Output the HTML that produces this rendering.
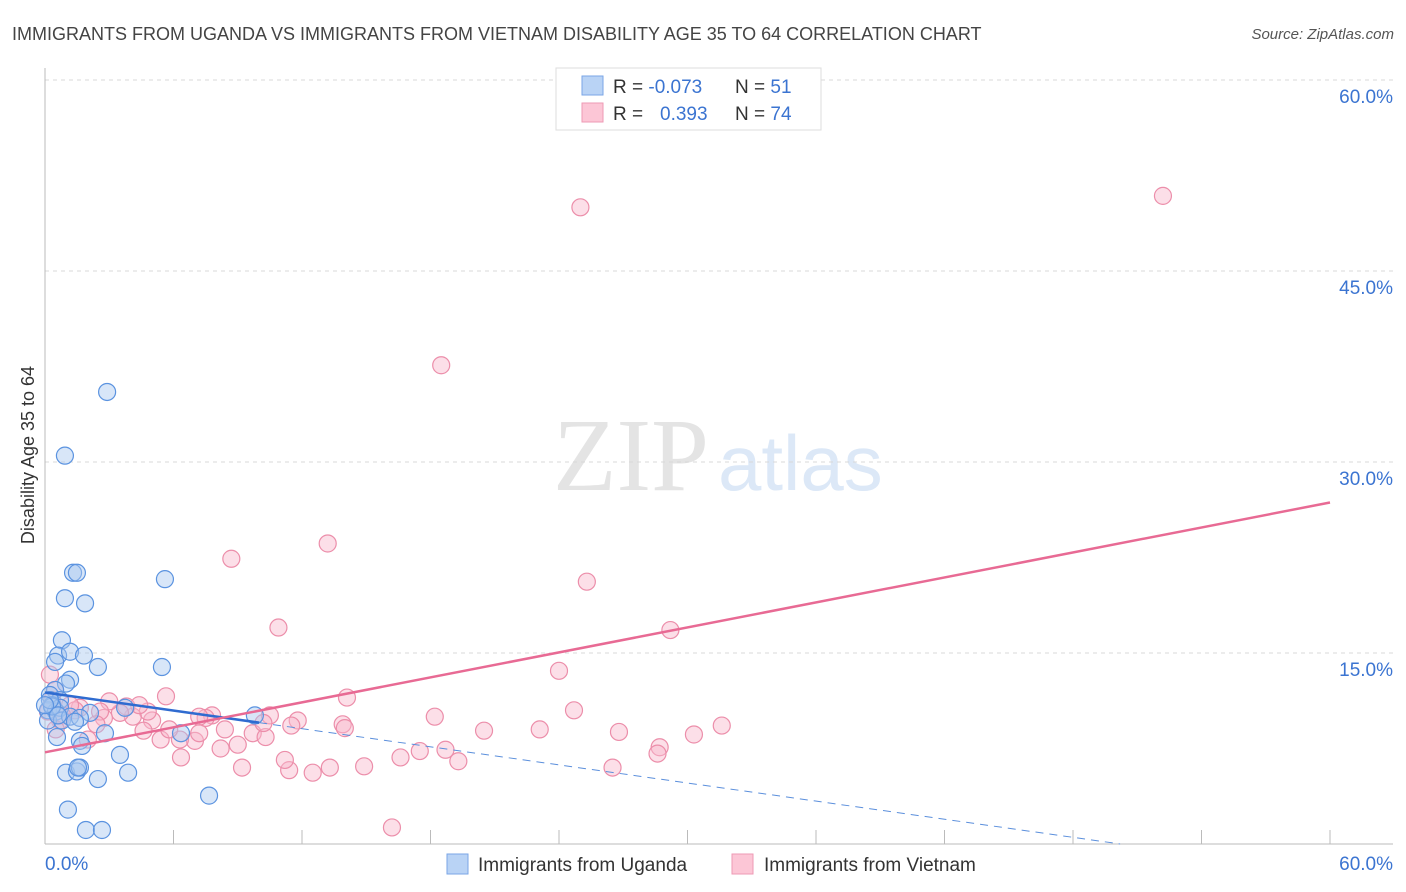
<!DOCTYPE html>
<html><head><meta charset="utf-8">
<style>
body{margin:0;background:#fff;font-family:"Liberation Sans",sans-serif;}
svg{display:block}
</style></head>
<body>
<svg id="chart" width="1406" height="892">
<text x="12" y="40" font-size="18" fill="#444">IMMIGRANTS FROM UGANDA VS IMMIGRANTS FROM VIETNAM DISABILITY AGE 35 TO 64 CORRELATION CHART</text>
<text x="1394" y="39" font-size="15" fill="#555" font-style="italic" text-anchor="end">Source: ZipAtlas.com</text>
<g>
<text x="553" y="490" font-family="Liberation Serif,serif" font-size="104" fill="#e4e4e4">ZIP</text>
<text x="718" y="490" font-size="78" fill="#dce8f7">atlas</text>
</g>
<g id="grid"></g>
<g id="axes"></g>
<g id="pts"></g>
<g id="trend"></g>
<text transform="translate(34,455) rotate(-90)" font-size="18" fill="#333" text-anchor="middle">Disability Age 35 to 64</text>
<g>
<rect x="556" y="68" width="265" height="62" fill="#fff" stroke="#ddd"/>
<rect x="582" y="76" width="21" height="19" fill="#b9d3f5" stroke="#7aa6e6"/>
<rect x="582" y="103" width="21" height="19" fill="#fcc6d6" stroke="#ee9ab4"/>
<text x="613" y="93" font-size="19" fill="#333">R = <tspan fill="#3b74d1">-0.073</tspan></text>
<text x="735" y="93" font-size="19" fill="#333">N = <tspan fill="#3b74d1">51</tspan></text>
<text x="613" y="120" font-size="19" fill="#333">R = <tspan fill="#3b74d1" x="660">0.393</tspan></text>
<text x="735" y="120" font-size="19" fill="#333">N = <tspan fill="#3b74d1">74</tspan></text>
</g>
<g>
<rect x="447" y="854" width="21" height="20" fill="#b9d3f5" stroke="#7aa6e6"/>
<text x="478" y="871" font-size="19" fill="#333">Immigrants from Uganda</text>
<rect x="732" y="854" width="21" height="20" fill="#fcc6d6" stroke="#ee9ab4"/>
<text x="764" y="871" font-size="19" fill="#333">Immigrants from Vietnam</text>
</g>
</svg>
<script>
const ugandaX=[2.9,0.93,1.31,1.49,0.93,1.87,5.6,0.79,0.61,1.17,1.82,0.47,2.47,5.46,1.17,0.98,0.47,0.23,0.70,0.33,0.14,0.51,0.70,2.10,3.74,9.8,0.14,0.79,1.17,1.63,0.56,1.63,2.8,1.73,3.5,6.35,0.98,1.49,1.63,1.54,2.47,3.88,7.66,1.07,1.91,2.66,0.33,0.23,0.61,1.40,0.0];
const ugandaY=[35.5,30.5,21.3,21.3,19.3,18.9,20.8,16.0,14.8,15.1,14.8,14.3,13.9,13.9,12.9,12.6,12.1,11.7,11.3,10.9,10.5,10.4,10.7,10.3,10.7,10.1,9.7,9.7,10.0,9.9,8.4,8.1,8.7,7.7,7.0,8.7,5.6,5.7,6.0,6.0,5.1,5.6,3.8,2.7,1.1,1.1,10.8,11.3,10.1,9.6,10.9];
const vietnamX=[25.0,52.2,18.5,13.2,8.7,25.3,10.9,29.2,24.0,5.65,14.1,24.7,18.2,20.5,23.1,26.8,30.3,31.6,28.7,28.6,26.5,16.2,19.3,18.7,17.5,16.6,14.9,13.3,12.5,11.4,11.2,11.8,11.5,13.9,14.0,10.5,9.7,10.3,9.0,9.2,8.2,7.8,7.5,7.2,7.0,6.35,6.3,5.4,5.0,4.8,4.6,4.1,3.8,3.5,3.0,2.75,2.57,2.4,2.0,1.63,1.4,1.17,0.8,0.47,0.23,0.33,0.7,0.14,0.5,5.8,7.2,8.4,10.2,4.4];
const vietnamY=[50.0,50.9,37.6,23.6,22.4,20.6,17.0,16.8,13.6,11.6,11.5,10.5,10.0,8.9,9.0,8.8,8.6,9.3,7.6,7.1,6.0,1.3,6.5,7.4,7.3,6.8,6.1,6.0,5.6,5.8,6.6,9.7,9.3,9.4,9.1,10.1,8.7,8.4,7.8,6.0,7.5,10.1,9.9,10.0,8.1,6.8,8.2,8.2,9.7,10.4,8.9,10.0,10.8,10.3,11.2,9.9,10.4,9.4,8.2,10.7,10.5,10.9,10.1,12.1,13.3,11.3,9.7,10.4,9.0,9.0,8.7,9.0,9.5,10.9];
const yTicks=[15,30,45,60];
const yTickLabels=["15.0%","30.0%","45.0%","60.0%"];
const xTicks=[0,6,12,18,24,30,36,42,48,54,60];
const trendUganda=[11.9,-0.237]; // intercept, slope
const trendVietnam=[7.2,0.327];
const ugandaSolidEnd=10, ugandaDashEnd=50.2, vietnamEnd=60;

const NS="http://www.w3.org/2000/svg";
const X0=45,X1=1330,Y0=844,Y1=80;
const sx=v=>X0+(X1-X0)*v/60;
const sy=v=>Y0-(Y0-Y1)*v/60;
function mk(tag,attrs,parent){const e=document.createElementNS(NS,tag);for(const k in attrs)e.setAttribute(k,attrs[k]);parent.appendChild(e);return e;}
const grid=document.getElementById('grid'),axes=document.getElementById('axes'),pts=document.getElementById('pts'),trend=document.getElementById('trend');
yTicks.forEach((t,i)=>{
  const l=mk('line',{x1:X0,x2:1393,y1:sy(t),y2:sy(t),stroke:'#d8d8d8','stroke-dasharray':'4,4'},grid);
  
  
  const tx=mk('text',{x:1393,y:sy(t)+23,'font-size':19,fill:'#3b74d1','text-anchor':'end'},grid);
  tx.textContent=yTickLabels[i];
  
  
});
const ya=mk('line',{x1:X0,x2:X0,y1:68,y2:Y0,stroke:'#bbb'},axes);


const xa=mk('line',{x1:X0,x2:1393,y1:Y0,y2:Y0,stroke:'#bbb'},axes);


xTicks.forEach(t=>{
  const l=mk('line',{x1:sx(t),x2:sx(t),y1:Y0-14,y2:Y0,stroke:'#bbb'},axes);
  
  
});
const xl0=mk('text',{x:45,y:870,'font-size':19,fill:'#3b74d1'},axes);xl0.textContent='0.0%';


const xl1=mk('text',{x:1393,y:870,'font-size':19,fill:'#3b74d1','text-anchor':'end'},axes);xl1.textContent='60.0%';


function dots(xs,ys,fill,stroke,name){
  xs.forEach((x,i)=>{
    const c=mk('circle',{cx:sx(x),cy:sy(ys[i]),r:8.5,fill:fill,'fill-opacity':0.45,stroke:stroke,'stroke-width':1.2},pts);
    
    
  });
}
dots(vietnamX,vietnamY,'#f9b8cb','#ec8eaa','point-vietnam');
dots(ugandaX,ugandaY,'#a9c8f0','#5b93e0','point-uganda');
const f=(p,x)=>p[0]+p[1]*x;
const t1=mk('line',{x1:sx(0),y1:sy(f(trendUganda,0)),x2:sx(ugandaSolidEnd),y2:sy(f(trendUganda,ugandaSolidEnd)),stroke:'#2f6bd0','stroke-width':2.5},trend);


const t2=mk('line',{x1:sx(ugandaSolidEnd),y1:sy(f(trendUganda,ugandaSolidEnd)),x2:sx(ugandaDashEnd),y2:sy(f(trendUganda,ugandaDashEnd)),stroke:'#5b8fdc','stroke-width':1,'stroke-dasharray':'8,6'},trend);


const t3=mk('line',{x1:sx(0),y1:sy(f(trendVietnam,0)),x2:sx(vietnamEnd),y2:sy(f(trendVietnam,vietnamEnd)),stroke:'#e86a94','stroke-width':2.5},trend);


</script>
</body></html>
